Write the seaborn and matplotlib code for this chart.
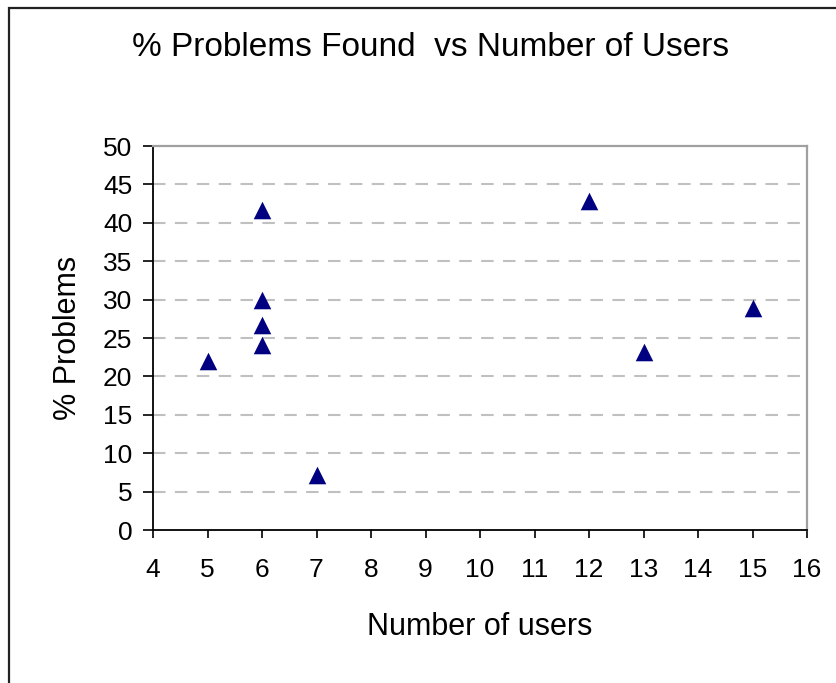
import matplotlib
matplotlib.use("Agg")
import matplotlib.pyplot as plt
import seaborn as sns
import pandas as pd
from matplotlib.patches import Rectangle

users = [5, 6, 6, 6, 6, 7, 12, 13, 15]
pct_problems = [22.0, 41.7, 30.0, 26.7, 24.1, 7.1, 42.8, 23.2, 28.9]
x_ticks = list(range(4, 17))
y_ticks = list(range(0, 51, 5))

df = pd.DataFrame({"users": users, "pct": pct_problems})

sns.set_style("white")
plt.rcParams['font.family'] = ['Liberation Sans', 'DejaVu Sans']
plt.rcParams['text.color'] = 'black'
plt.rcParams['axes.labelcolor'] = 'black'
plt.rcParams['xtick.color'] = 'black'
plt.rcParams['ytick.color'] = 'black'

fig = plt.figure(figsize=(8.36, 6.83), dpi=100)
ax = fig.add_axes([153 / 836, 1 - 530 / 683, (807 - 153) / 836, (530 - 146) / 683])

# outer chart frame (only top and left edges visible)
fig.patches.append(Rectangle((9 / 836, -0.1), 1.2, 1 - 8 / 683 + 0.1,
                             transform=fig.transFigure, fill=False,
                             edgecolor='#222222', linewidth=1.6))

sns.scatterplot(data=df, x="users", y="pct", marker="^", s=160,
                color="#000080", edgecolor="#000080", linewidth=0, ax=ax)

ax.set_xlim(4, 16)
ax.set_ylim(0, 50)
ax.set_xticks(x_ticks)
ax.set_yticks(y_ticks)
for v in y_ticks[1:-1]:
    ax.axhline(v, color='#c0c0c0', linewidth=1.5, linestyle=(0, (6, 4.5)), zorder=0)

for s in ['left', 'bottom']:
    ax.spines[s].set_color('black')
    ax.spines[s].set_linewidth(1.3)
for s in ['top', 'right']:
    ax.spines[s].set_color('#a0a0a0')
    ax.spines[s].set_linewidth(1.6)

ax.tick_params(axis='x', direction='out', length=6, width=1.2, color='black',
               labelsize=19, pad=14, bottom=True, labelcolor='black')
ax.tick_params(axis='y', direction='out', length=7, width=1.2, color='black',
               labelsize=19, pad=8, left=True, labelcolor='black')

ax.set_xlabel("Number of users", fontsize=22, labelpad=22, color='black')
ax.set_ylabel("% Problems", fontsize=22, labelpad=14, color='black')
fig.text(431 / 836, 1 - 47 / 683, "% Problems Found  vs Number of Users",
         fontsize=24, ha='center', va='center', color='black')

plt.savefig("out.png", dpi=100)
plt.close()
